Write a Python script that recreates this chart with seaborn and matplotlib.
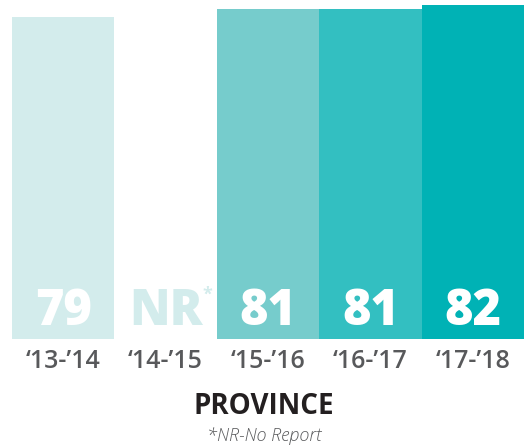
import numpy as np
import pandas as pd
import matplotlib
matplotlib.use("Agg")
import matplotlib.pyplot as plt
import seaborn as sns

sns.set_theme(style="white")
plt.rcParams["font.family"] = ["Open Sans", "DejaVu Sans"]

# Daten
years = ["\u201813-\u201914", "\u201814-\u201915", "\u201815-\u201916", "\u201816-\u201917", "\u201817-\u201918"]
scores = [79, np.nan, 81, 81, 82]
labels = ["79", "NR", "81", "81", "82"]
colors = ["#d3ecec", "#d3ecec", "#76cccc", "#33bfc1", "#00b2b5"]

df = pd.DataFrame({"year": years, "score": scores})

fig = plt.figure(figsize=(5.28, 4.47), dpi=100)
ax = fig.add_axes([0, 108 / 447, 1, 339 / 447])

sns.barplot(data=df, x="year", y="score", hue="year", palette=colors,
            width=1.0, dodge=False, legend=False, ax=ax, saturation=1,
            linewidth=0, edgecolor="none")

ax.set_xlim(-0.617, 4.539)
ax.set_ylim(0, 83.2)
ax.set_xlabel("")
ax.set_ylabel("")
ax.set_yticks([])
ax.tick_params(axis="x", length=0, pad=7, labelsize=18, labelcolor="#58595b")
for t in ax.get_xticklabels():
    t.set_fontweight(600)
sns.despine(ax=ax, left=True, bottom=True)

# Werte in den Balken
for i, (lab, c) in enumerate(zip(labels, colors)):
    if lab == "NR":
        ax.text(i, 3.4, lab, ha="center", va="baseline", fontsize=35,
                fontweight=800, color=c)
        ax.text(i + 0.36, 9.6, "*", ha="left", va="baseline", fontsize=13,
                fontweight="bold", color=c)
    else:
        ax.text(i, 3.4, lab, ha="center", va="baseline", fontsize=35,
                fontweight=800, color="white")

fig.text(0.5, 1 - 414 / 447, "PROVINCE", ha="center", va="baseline",
         fontsize=20, fontweight="bold", color="#231f20")
fig.text(0.5, 1 - 441 / 447, "*NR-No Report", ha="center", va="baseline",
         fontsize=13, style="italic", fontweight="light", color="#58595b")

fig.savefig("out.png", dpi=100)
plt.close(fig)
